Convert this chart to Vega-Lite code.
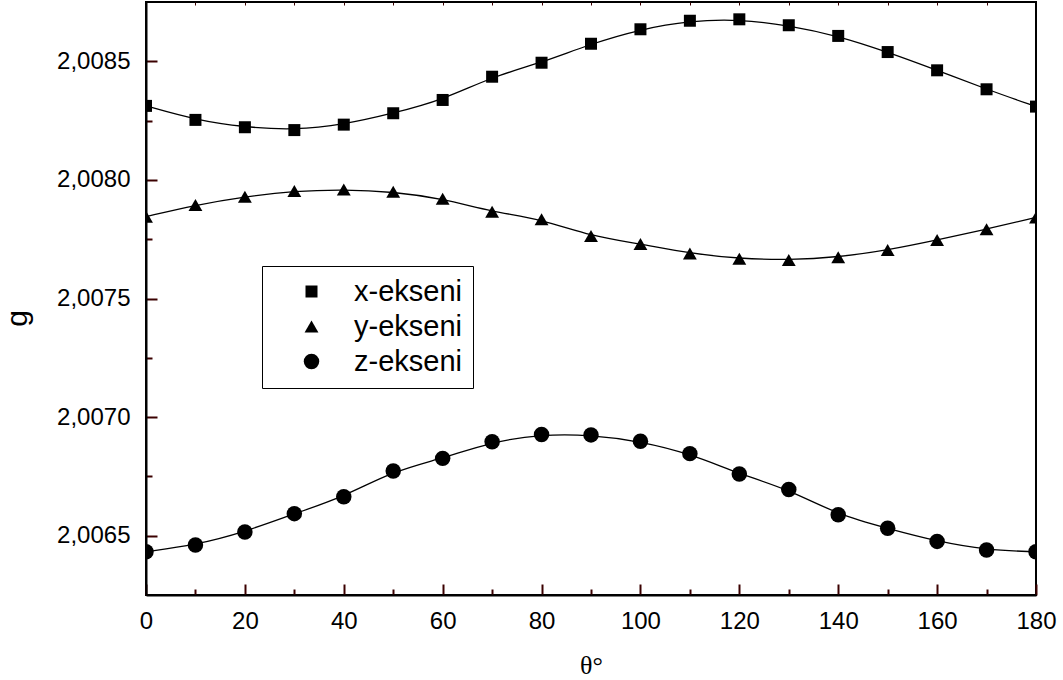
{
  "$schema": "https://vega.github.io/schema/vega-lite/v6.json",
  "width": 890,
  "height": 593,
  "autosize": {"type": "none"},
  "padding": {"left": 146, "top": 2, "right": 27, "bottom": 85},
  "background": "white",
  "config": {
    "view": {"stroke": "black", "strokeWidth": 2},
    "axis": {
      "grid": false,
      "labelFont": "Liberation Sans",
      "labelFontSize": 24,
      "labelColor": "black",
      "domainColor": "black",
      "domainWidth": 2
    },
    "legend": {
      "labelFont": "Liberation Sans",
      "labelFontSize": 29,
      "labelColor": "black"
    }
  },
  "data": {
    "values": [
      {"theta": 0, "g": 2.008312, "series": "x-ekseni"},
      {"theta": 10, "g": 2.008253, "series": "x-ekseni"},
      {"theta": 20, "g": 2.008222, "series": "x-ekseni"},
      {"theta": 30, "g": 2.00821, "series": "x-ekseni"},
      {"theta": 40, "g": 2.008233, "series": "x-ekseni"},
      {"theta": 50, "g": 2.008281, "series": "x-ekseni"},
      {"theta": 60, "g": 2.008337, "series": "x-ekseni"},
      {"theta": 70, "g": 2.008435, "series": "x-ekseni"},
      {"theta": 80, "g": 2.008494, "series": "x-ekseni"},
      {"theta": 90, "g": 2.008574, "series": "x-ekseni"},
      {"theta": 100, "g": 2.008635, "series": "x-ekseni"},
      {"theta": 110, "g": 2.008671, "series": "x-ekseni"},
      {"theta": 120, "g": 2.008677, "series": "x-ekseni"},
      {"theta": 130, "g": 2.008652, "series": "x-ekseni"},
      {"theta": 140, "g": 2.008607, "series": "x-ekseni"},
      {"theta": 150, "g": 2.008539, "series": "x-ekseni"},
      {"theta": 160, "g": 2.008462, "series": "x-ekseni"},
      {"theta": 170, "g": 2.008382, "series": "x-ekseni"},
      {"theta": 180, "g": 2.008309, "series": "x-ekseni"},
      {"theta": 0, "g": 2.007845, "series": "y-ekseni"},
      {"theta": 10, "g": 2.007894, "series": "y-ekseni"},
      {"theta": 20, "g": 2.007929, "series": "y-ekseni"},
      {"theta": 30, "g": 2.007953, "series": "y-ekseni"},
      {"theta": 40, "g": 2.00796, "series": "y-ekseni"},
      {"theta": 50, "g": 2.00795, "series": "y-ekseni"},
      {"theta": 60, "g": 2.007921, "series": "y-ekseni"},
      {"theta": 70, "g": 2.007866, "series": "y-ekseni"},
      {"theta": 80, "g": 2.007834, "series": "y-ekseni"},
      {"theta": 90, "g": 2.007763, "series": "y-ekseni"},
      {"theta": 100, "g": 2.00773, "series": "y-ekseni"},
      {"theta": 110, "g": 2.00769, "series": "y-ekseni"},
      {"theta": 120, "g": 2.007668, "series": "y-ekseni"},
      {"theta": 130, "g": 2.007662, "series": "y-ekseni"},
      {"theta": 140, "g": 2.007674, "series": "y-ekseni"},
      {"theta": 150, "g": 2.007704, "series": "y-ekseni"},
      {"theta": 160, "g": 2.007747, "series": "y-ekseni"},
      {"theta": 170, "g": 2.007792, "series": "y-ekseni"},
      {"theta": 180, "g": 2.007842, "series": "y-ekseni"},
      {"theta": 0, "g": 2.006432, "series": "z-ekseni"},
      {"theta": 10, "g": 2.006461, "series": "z-ekseni"},
      {"theta": 20, "g": 2.006516, "series": "z-ekseni"},
      {"theta": 30, "g": 2.006593, "series": "z-ekseni"},
      {"theta": 40, "g": 2.006664, "series": "z-ekseni"},
      {"theta": 50, "g": 2.006773, "series": "z-ekseni"},
      {"theta": 60, "g": 2.006826, "series": "z-ekseni"},
      {"theta": 70, "g": 2.006896, "series": "z-ekseni"},
      {"theta": 80, "g": 2.006927, "series": "z-ekseni"},
      {"theta": 90, "g": 2.006925, "series": "z-ekseni"},
      {"theta": 100, "g": 2.006898, "series": "z-ekseni"},
      {"theta": 110, "g": 2.006846, "series": "z-ekseni"},
      {"theta": 120, "g": 2.00676, "series": "z-ekseni"},
      {"theta": 130, "g": 2.006695, "series": "z-ekseni"},
      {"theta": 140, "g": 2.006588, "series": "z-ekseni"},
      {"theta": 150, "g": 2.006531, "series": "z-ekseni"},
      {"theta": 160, "g": 2.006476, "series": "z-ekseni"},
      {"theta": 170, "g": 2.00644, "series": "z-ekseni"},
      {"theta": 180, "g": 2.006432, "series": "z-ekseni"}
    ]
  },
  "resolve": {"axis": {"x": "independent", "y": "independent"}},
  "layer": [
    {
      "mark": {"type": "line", "interpolate": "basis", "color": "black", "strokeWidth": 1.3, "clip": true},
      "encoding": {
        "x": {
          "field": "theta",
          "type": "quantitative",
          "scale": {"domain": [0, 180], "nice": false, "zero": false},
          "axis": {
            "orient": "bottom",
            "title": null,
            "labels": false,
            "domain": false,
            "values": [10, 30, 50, 70, 90, 110, 130, 150, 170],
            "offset": -6,
            "tickSize": 6,
            "tickColor": "#3a0000",
            "tickWidth": 2,
            "zindex": 2
          }
        },
        "y": {
          "field": "g",
          "type": "quantitative",
          "scale": {"domain": [2.00625, 2.00875], "nice": false, "zero": false},
          "axis": {
            "orient": "left",
            "title": null,
            "labels": false,
            "domain": false,
            "values": [2.00675, 2.00725, 2.00775, 2.00825],
            "offset": -6,
            "tickSize": 6,
            "tickColor": "#3a0000",
            "tickWidth": 2,
            "zindex": 2
          }
        },
        "detail": {"field": "series"}
      }
    },
    {
      "mark": {"type": "point", "filled": true, "color": "black", "opacity": 0},
      "encoding": {
        "x": {
          "field": "theta",
          "type": "quantitative",
          "axis": {
            "orient": "bottom",
            "title": null,
            "labels": false,
            "domain": false,
            "values": [0, 20, 40, 60, 80, 100, 120, 140, 160, 180],
            "offset": -11,
            "tickSize": 11,
            "tickColor": "#3a0000",
            "tickWidth": 2,
            "zindex": 2
          }
        },
        "y": {
          "field": "g",
          "type": "quantitative",
          "axis": {
            "orient": "left",
            "title": null,
            "labels": false,
            "domain": false,
            "values": [2.0065, 2.007, 2.0075, 2.008, 2.0085],
            "offset": -11,
            "tickSize": 11,
            "tickColor": "#3a0000",
            "tickWidth": 2,
            "zindex": 2
          }
        }
      }
    },
    {
      "mark": {"type": "point", "filled": true, "color": "black", "opacity": 0},
      "encoding": {
        "x": {
          "field": "theta",
          "type": "quantitative",
          "axis": {
            "orient": "top",
            "title": null,
            "labels": false,
            "domain": false,
            "values": [10, 20, 30, 40, 50, 60, 70, 80, 90, 100, 110, 120, 130, 140, 150, 160, 170],
            "offset": -3,
            "tickSize": 3,
            "tickColor": "#3a0000",
            "tickWidth": 1,
            "zindex": 2
          }
        }
      }
    },
    {
      "mark": {"type": "point", "filled": true, "color": "black", "opacity": 1, "clip": true},
      "encoding": {
        "x": {
          "field": "theta",
          "type": "quantitative",
          "axis": {
            "orient": "bottom",
            "title": "θ°",
            "titleFont": "Liberation Serif",
            "titleFontSize": 26,
            "titleFontWeight": "normal",
            "titleColor": "black",
            "titleBaseline": "alphabetic",
            "titleY": 78,
            "values": [0, 20, 40, 60, 80, 100, 120, 140, 160, 180],
            "ticks": false,
            "labelPadding": 14,
            "labelFlush": false,
            "labelOverlap": false,
            "zindex": 2
          }
        },
        "y": {
          "field": "g",
          "type": "quantitative",
          "axis": {
            "orient": "left",
            "title": "g",
            "titleFont": "Liberation Sans",
            "titleFontSize": 30,
            "titleFontWeight": "normal",
            "titleColor": "black",
            "titleAngle": -90,
            "titleAlign": "center",
            "titleBaseline": "alphabetic",
            "titleX": -120,
            "titleY": 316,
            "values": [2.0065, 2.007, 2.0075, 2.008, 2.0085],
            "labelExpr": "replace(format(datum.value, '.4f'), '.', ',')",
            "ticks": false,
            "labelPadding": 16,
            "labelOverlap": false,
            "zindex": 2
          }
        },
        "shape": {
          "field": "series",
          "type": "nominal",
          "scale": {"domain": ["x-ekseni", "y-ekseni", "z-ekseni"], "range": ["square", "triangle-up", "circle"]},
          "legend": {
            "title": null,
            "orient": "none",
            "legendX": 116,
            "legendY": 264,
            "strokeColor": "black",
            "fillColor": "white",
            "padding": 11,
            "rowPadding": 5,
            "symbolFillColor": "black",
            "symbolStrokeColor": "black",
            "symbolStrokeWidth": 0,
            "symbolOffset": 24,
            "labelOffset": 28
          }
        },
        "size": {
          "field": "series",
          "type": "nominal",
          "scale": {"domain": ["x-ekseni", "y-ekseni", "z-ekseni"], "range": [144, 240, 150]}
        }
      }
    }
  ]
}
